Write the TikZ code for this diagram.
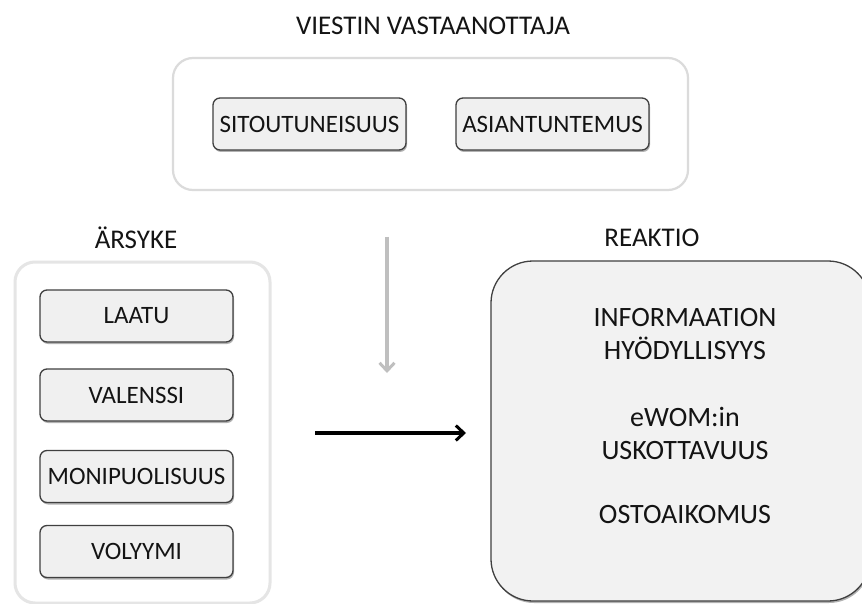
\documentclass[tikz,border=0pt]{standalone}
\usepackage{fontspec}
\setmainfont{Carlito}
\usetikzlibrary{arrows.meta,shadows}
\begin{document}
\begin{tikzpicture}[x=1pt,y=-1pt,
  every node/.style={text=black!92},
  group/.style={draw=black!14, line width=2.2pt, fill=white, rounded corners=20pt,
    inner sep=0pt},
  item/.style={draw=black!75, line width=1.3pt, fill=black!6, rounded corners=7pt,
    minimum width=193pt, minimum height=52pt, inner sep=0pt,
    font=\fontsize{25}{29}\selectfont,
    drop shadow={shadow xshift=1pt, shadow yshift=-2pt, opacity=.3, fill=black}},
  heading/.style={anchor=base, font=\fontsize{27}{31}\selectfont},
  result/.style={align=center, font=\fontsize{28}{33}\selectfont, inner sep=0pt},
  flow/.style={line width=3.3pt, -{Straight Barb[length=8pt,width=15pt,line width=3pt]}}
]
\clip (0,0) rectangle (862,604);
\fill[white] (0,0) rectangle (862,604);

% receiver of the message
\node[heading] (titleTop) at (433,35) {VIESTIN VASTAANOTTAJA};
\node[group, minimum width=515pt, minimum height=132pt] (receiver) at (430.5,124) {};
\node[item] (commit) at (309.5,124) {SITOUTUNEISUUS};
\node[item] (expert) at (552.5,124) {ASIANTUNTEMUS};

% stimulus
\node[heading] (titleLeft) at (136,248) {ÄRSYKE};
\node[group, line width=3pt, draw=black!10, minimum width=255pt, minimum height=341pt] (stimulus) at (142.5,432.5) {};
\node[item] (quality) at (136.5,316) {LAATU};
\node[item] (valence) at (136.5,395) {VALENSSI};
\node[item] (variety) at (136.5,476.5) {MONIPUOLISUUS};
\node[item] (volume) at (136.5,551.5) {VOLYYMI};

% reaction
\node[heading] (titleRight) at (652,247) {REAKTIO};
\node[draw=black!75, line width=1.3pt, fill=black!5, rounded corners=42pt,
  minimum width=379pt, minimum height=340pt, inner sep=0pt,
  drop shadow={shadow xshift=1pt, shadow yshift=-2pt, opacity=.3, fill=black}]
  (reaction) at (680.5,431) {};
\node[result] (useful) at (685,334) {INFORMAATION\\HYÖDYLLISYYS};
\node[result] (credible) at (685,433) {eWOM:in\\USKOTTAVUUS};
\node[result] (intent) at (685,515) {OSTOAIKOMUS};

% influences
\coordinate (modTop) at (387,237);
\coordinate (modEnd) at (387,373);
\coordinate (mainStart) at (315,433);
\coordinate (mainEnd) at (466,433);
\draw[flow, draw=black!25] (modTop) -- (modEnd);
\draw[flow, draw=black] (mainStart) -- (mainEnd);
\end{tikzpicture}
\end{document}
